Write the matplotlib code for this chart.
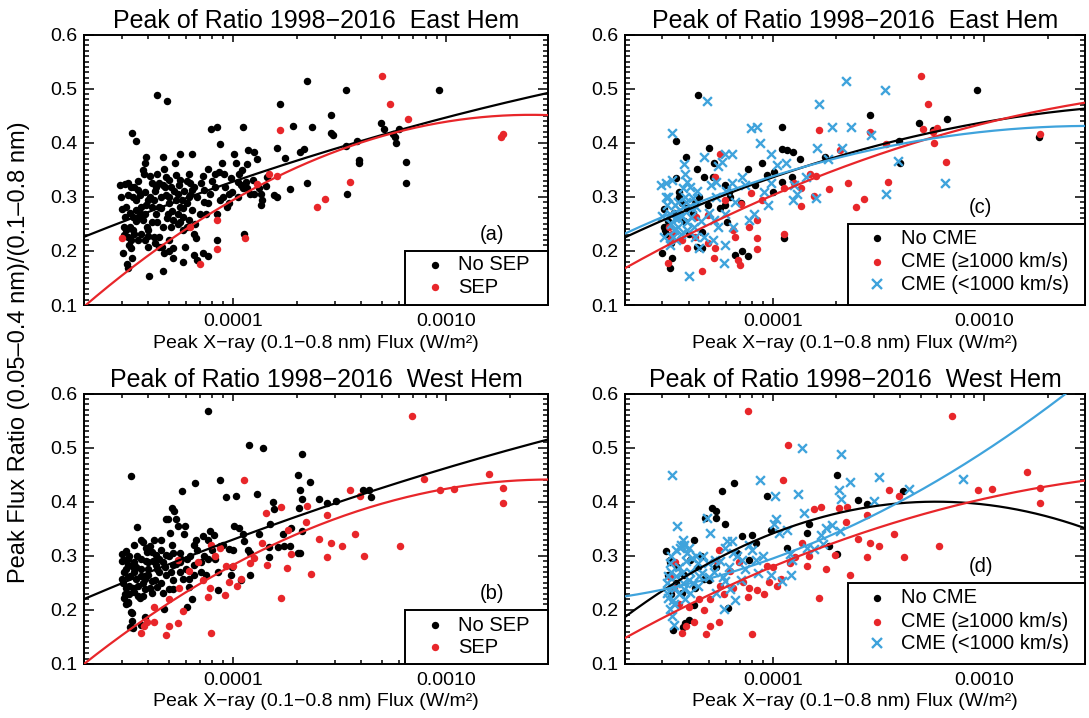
import numpy as np
import matplotlib
matplotlib.use("Agg")
import matplotlib.pyplot as plt
from matplotlib.ticker import FixedLocator, FixedFormatter, LogLocator, NullFormatter, MultipleLocator
from matplotlib.patches import Rectangle

plt.rcParams['font.family'] = ['Liberation Sans', 'DejaVu Sans']

# flux values are in units of 1e-5 W/m^2
UNIT = 1e-5

# ---- (a) East Hem, SEP split
a_nosep_x = [3.89, 3.86, 3.83, 2.95, 3.10, 3.22, 3.32, 3.20, 3.02, 3.08,
             3.14, 3.08, 3.22, 3.32, 3.45, 3.26, 3.32, 3.05, 3.17, 3.22,
             3.35, 3.58, 3.65, 3.52, 3.72, 3.86, 3.58, 3.79, 3.94, 3.72,
             3.86, 4.01, 4.04, 4.17, 4.33, 4.25, 4.49, 4.33, 4.41, 4.67,
             4.49, 4.63, 4.67, 4.67, 4.75, 4.84, 5.03, 5.13, 4.84, 5.03,
             4.93, 5.23, 5.13, 5.03, 5.23, 5.23, 5.64, 5.32, 5.42, 5.64,
             5.53, 5.74, 5.64, 5.85, 5.64, 5.85, 5.96, 5.85, 6.43, 6.19,
             6.31, 6.55, 6.27, 6.08, 6.43, 6.19, 6.55, 6.68, 6.55, 6.81,
             7.07, 7.34, 7.62, 7.20, 7.77, 7.62, 7.48, 7.20, 7.62, 8.22,
             8.22, 8.69, 8.38, 8.38, 8.87, 9.03, 9.20, 9.56, 9.56, 9.38,
             10.1, 10.3, 10.7, 10.5, 9.9, 10.9, 11.1, 11.6, 11.5, 11.6,
             12.0, 12.4, 12.6, 4.4, 4.9, 3.36, 3.52, 7.9, 8.4, 8.7,
             11.1, 16.6, 16.0, 19.1, 22.3, 23.5, 22.3, 18.4, 17.6, 20.5,
             21.5, 28.8, 28.8, 29.5, 33.9, 33.9, 34.2, 38.2, 38.8, 39.1,
             49.2, 51.3, 56.4, 57.4, 57.8, 60.1, 65.0, 65.0, 92.7, 11.2,
             12.9, 11.8, 12.5, 13.2, 13.5, 13.7, 13.5, 15.6, 16.0, 14.3,
             14.5, 3.52, 3.39, 4.17, 4.01, 4.25, 4.49, 4.75, 4.17, 4.01,
             4.58, 5.42, 5.53, 6.08, 6.19, 3.14, 3.45, 2.97, 3.39, 3.86,
             4.67, 3.1, 3.3, 3.5, 3.7, 3.9, 4.1, 4.3, 4.5, 4.8,
             5.0, 5.3, 5.6, 5.9, 6.1, 6.4, 3.4, 3.6, 3.8, 4.1,
             4.4, 4.6, 4.9, 5.2, 5.5, 5.8, 3.3, 3.6, 4.0, 4.3,
             5.0, 6.8, 7.3, 7.0, 6.6, 8.0, 9.0, 9.8, 10.5, 11.0,
             8.6]
a_nosep_y = [0.374, 0.362, 0.343, 0.322, 0.323, 0.326, 0.319, 0.303, 0.277, 0.245,
             0.239, 0.229, 0.225, 0.221, 0.232, 0.211, 0.205, 0.197, 0.175, 0.169,
             0.186, 0.312, 0.303, 0.294, 0.282, 0.269, 0.263, 0.257, 0.245, 0.232,
             0.220, 0.208, 0.154, 0.325, 0.319, 0.294, 0.282, 0.269, 0.254, 0.245,
             0.226, 0.208, 0.162, 0.374, 0.352, 0.337, 0.331, 0.319, 0.303, 0.288,
             0.269, 0.257, 0.245, 0.220, 0.205, 0.186, 0.379, 0.362, 0.340, 0.331,
             0.306, 0.294, 0.282, 0.263, 0.254, 0.239, 0.208, 0.180, 0.379, 0.343,
             0.325, 0.319, 0.303, 0.288, 0.276, 0.257, 0.232, 0.223, 0.192, 0.183,
             0.325, 0.312, 0.352, 0.338, 0.306, 0.288, 0.269, 0.196, 0.191, 0.343,
             0.319, 0.294, 0.269, 0.221, 0.362, 0.343, 0.319, 0.306, 0.288, 0.282,
             0.380, 0.362, 0.343, 0.328, 0.309, 0.322, 0.316, 0.360, 0.328, 0.316,
             0.306, 0.331, 0.306, 0.489, 0.477, 0.418, 0.404, 0.426, 0.429, 0.397,
             0.429, 0.471, 0.391, 0.431, 0.514, 0.429, 0.325, 0.315, 0.372, 0.383,
             0.389, 0.451, 0.418, 0.414, 0.497, 0.394, 0.305, 0.403, 0.368, 0.363,
             0.437, 0.426, 0.417, 0.411, 0.400, 0.426, 0.364, 0.325, 0.497, 0.232,
             0.370, 0.386, 0.383, 0.316, 0.306, 0.295, 0.284, 0.303, 0.299, 0.320,
             0.337, 0.276, 0.263, 0.254, 0.239, 0.226, 0.208, 0.196, 0.282, 0.294,
             0.300, 0.294, 0.269, 0.245, 0.300, 0.282, 0.319, 0.300, 0.239, 0.309,
             0.322, 0.262, 0.270, 0.255, 0.268, 0.285, 0.300, 0.310, 0.325, 0.318,
             0.300, 0.310, 0.322, 0.310, 0.330, 0.312, 0.300, 0.330, 0.350, 0.338,
             0.343, 0.280, 0.260, 0.273, 0.250, 0.280, 0.245, 0.220, 0.228, 0.215,
             0.200, 0.300, 0.290, 0.268, 0.250, 0.330, 0.300, 0.335, 0.300, 0.350,
             0.345]
a_sep_x = [3.0, 6.3, 7.0, 8.4, 8.4, 11.4, 12.9, 14.8, 16.0, 16.6,
           24.7, 27.0, 35.2, 49.9, 54.5, 66.0, 181.0, 185.0]
a_sep_y = [0.224, 0.245, 0.175, 0.258, 0.203, 0.224, 0.324, 0.343, 0.339, 0.424,
           0.282, 0.296, 0.327, 0.524, 0.471, 0.444, 0.411, 0.416]

# ---- (b) West Hem, SEP split
b_nosep_x = [7.62, 3.32, 11.85, 13.8, 21.1, 20.2, 22.9, 20.6, 21.1, 20.3,
             21.1, 6.6, 8.7, 9.3, 10.3, 12.9, 15.4, 5.74, 5.18, 5.30,
             5.4, 4.84, 4.98, 5.53, 5.96, 5.08, 3.56, 3.72, 3.79, 4.28,
             4.1, 3.14, 5.23, 5.64, 6.55, 7.2, 7.62, 8.1, 8.7, 9.56,
             10.0, 8.2, 7.6, 7.07, 6.55, 6.08, 5.64, 5.23, 4.67, 4.33,
             4.01, 3.72, 3.45, 3.20, 3.08, 3.2, 3.14, 3.26, 3.08, 3.22,
             3.32, 3.37, 3.39, 3.72, 3.86, 3.45, 3.58, 3.72, 3.86, 4.17,
             4.41, 4.67, 4.75, 4.17, 4.49, 4.84, 5.03, 5.23, 5.64, 5.85,
             6.19, 6.19, 6.43, 6.08, 6.55, 7.07, 7.48, 8.5, 8.5, 9.8,
             9.9, 10.9, 12.0, 12.0, 11.1, 10.7, 10.1, 11.3, 11.8, 13.2,
             14.9, 15.6, 14.7, 14.7, 16.2, 17.4, 18.5, 17.1, 18.8, 20.1,
             20.6, 25.4, 27.6, 30.4, 40.9, 43.6, 44.5, 3.02, 3.2, 3.39,
             3.52, 3.02, 3.08, 3.26, 3.45, 3.65, 3.86, 4.01, 4.33, 4.58,
             4.84, 5.23, 4.17, 3.94, 3.79, 3.14, 3.3, 3.05, 3.15, 3.25,
             3.3, 3.4, 3.5, 3.55, 3.6, 3.7, 3.8, 3.9, 4.0, 4.1,
             4.2, 4.3, 4.4, 4.5, 4.6, 4.8, 5.0, 5.1, 5.4, 5.7,
             6.0, 6.3, 6.8, 7.3, 8.0, 9.0, 3.2, 3.35, 3.1, 3.45,
             3.9, 4.6, 5.2, 5.9, 6.7, 7.8, 3.0]
b_nosep_y = [0.567, 0.448, 0.505, 0.500, 0.489, 0.450, 0.437, 0.421, 0.405, 0.389,
             0.346, 0.435, 0.441, 0.409, 0.410, 0.414, 0.400, 0.420, 0.389, 0.383,
             0.368, 0.368, 0.368, 0.356, 0.356, 0.342, 0.354, 0.329, 0.326, 0.329,
             0.318, 0.309, 0.305, 0.305, 0.320, 0.336, 0.329, 0.338, 0.319, 0.313,
             0.310, 0.295, 0.295, 0.289, 0.283, 0.295, 0.289, 0.283, 0.289, 0.283,
             0.289, 0.295, 0.289, 0.283, 0.270, 0.261, 0.241, 0.229, 0.222, 0.213,
             0.197, 0.179, 0.166, 0.172, 0.187, 0.270, 0.245, 0.262, 0.239, 0.254,
             0.243, 0.231, 0.201, 0.231, 0.270, 0.264, 0.239, 0.255, 0.270, 0.258,
             0.258, 0.242, 0.220, 0.205, 0.264, 0.270, 0.264, 0.270, 0.236, 0.264,
             0.280, 0.255, 0.265, 0.305, 0.340, 0.352, 0.356, 0.328, 0.310, 0.340,
             0.358, 0.386, 0.316, 0.298, 0.317, 0.319, 0.319, 0.340, 0.352, 0.305,
             0.305, 0.405, 0.397, 0.402, 0.422, 0.422, 0.409, 0.303, 0.295, 0.280,
             0.258, 0.258, 0.293, 0.245, 0.234, 0.222, 0.258, 0.276, 0.301, 0.310,
             0.301, 0.239, 0.307, 0.307, 0.225, 0.210, 0.169, 0.250, 0.275, 0.300,
             0.262, 0.240, 0.280, 0.300, 0.225, 0.275, 0.250, 0.290, 0.265, 0.240,
             0.290, 0.255, 0.275, 0.295, 0.250, 0.280, 0.300, 0.270, 0.285, 0.295,
             0.275, 0.300, 0.310, 0.300, 0.310, 0.320, 0.215, 0.195, 0.230, 0.320,
             0.315, 0.330, 0.320, 0.340, 0.330, 0.345, 0.290]
b_sep_x = [69.3, 11.3, 3.69, 3.94, 4.25, 4.25, 3.83, 4.87, 5.03, 5.53,
           5.8, 5.03, 5.58, 5.53, 6.19, 6.87, 7.24, 7.62, 7.77, 7.91,
           7.91, 8.2, 8.7, 9.13, 9.27, 9.56, 10.0, 10.4, 10.9, 12.0,
           12.5, 13.7, 14.3, 14.4, 16.7, 16.7, 17.9, 18.2, 18.7, 22.2,
           22.0, 23.2, 25.3, 27.5, 27.7, 28.8, 32.4, 35.2, 37.5, 39.4,
           41.3, 60.6, 79.0, 93.9, 108.8, 159.0, 185.0, 185.0]
b_sep_y = [0.558, 0.441, 0.157, 0.178, 0.178, 0.206, 0.170, 0.154, 0.170, 0.176,
           0.198, 0.220, 0.241, 0.292, 0.272, 0.288, 0.255, 0.224, 0.241, 0.157,
           0.320, 0.300, 0.314, 0.228, 0.282, 0.251, 0.281, 0.245, 0.258, 0.287,
           0.296, 0.323, 0.380, 0.283, 0.390, 0.222, 0.277, 0.347, 0.304, 0.392,
           0.362, 0.266, 0.331, 0.376, 0.298, 0.324, 0.319, 0.421, 0.341, 0.410,
           0.300, 0.318, 0.442, 0.421, 0.423, 0.452, 0.425, 0.397]

# ---- (c) East Hem, CME split
c_nocme_x = [4.44, 3.5, 3.89, 4.37, 5.0, 5.3, 4.73, 5.2, 3.07, 3.05,
             3.1, 3.12, 3.0, 3.25, 3.35, 3.47, 3.61, 3.71, 3.92, 4.31,
             4.92, 4.65, 4.4, 4.65, 5.94, 6.18, 5.94, 6.06, 6.6, 7.18,
             7.6, 7.05, 7.66, 8.25, 8.9, 9.35, 10.1, 10.0, 11.1, 11.1,
             11.7, 12.4, 13.4, 12.3, 11.0, 11.3, 17.6, 28.8, 39.6, 39.9,
             49.2, 66.5, 92.7, 182.0, 57.6, 3.2, 3.4, 3.8, 4.2, 4.5,
             3.6, 5.6, 6.3, 4.0, 3.3]
c_nocme_y = [0.489, 0.404, 0.373, 0.352, 0.391, 0.362, 0.337, 0.337, 0.277, 0.245,
             0.239, 0.232, 0.197, 0.168, 0.186, 0.334, 0.309, 0.288, 0.279, 0.288,
             0.285, 0.235, 0.208, 0.205, 0.322, 0.309, 0.285, 0.254, 0.192, 0.199,
             0.191, 0.288, 0.351, 0.322, 0.362, 0.340, 0.346, 0.309, 0.429, 0.388,
             0.386, 0.382, 0.370, 0.337, 0.328, 0.223, 0.373, 0.451, 0.404, 0.363,
             0.437, 0.443, 0.497, 0.411, 0.423, 0.255, 0.270, 0.255, 0.270, 0.300,
             0.300, 0.280, 0.300, 0.232, 0.215]
c_fast_x = [3.19, 3.22, 3.33, 3.25, 3.71, 3.92, 4.31, 4.35, 4.92, 4.65,
            5.25, 5.34, 4.92, 5.62, 5.32, 5.94, 6.52, 6.66, 6.84, 6.97,
            7.05, 7.7, 7.88, 8.4, 8.4, 8.4, 8.9, 11.3, 11.3, 12.6,
            13.6, 13.6, 15.0, 16.1, 15.6, 16.6, 18.5, 20.8, 22.6, 24.7,
            27.1, 28.8, 34.3, 35.2, 50.0, 54.5, 51.6, 57.9, 60.1, 66.0,
            184.0, 57.2]
c_fast_y = [0.177, 0.245, 0.232, 0.220, 0.220, 0.205, 0.226, 0.262, 0.266, 0.163,
            0.186, 0.205, 0.214, 0.380, 0.337, 0.294, 0.239, 0.225, 0.183, 0.174,
            0.287, 0.245, 0.307, 0.257, 0.203, 0.223, 0.294, 0.316, 0.232, 0.325,
            0.316, 0.283, 0.343, 0.339, 0.302, 0.424, 0.315, 0.386, 0.325, 0.282,
            0.296, 0.419, 0.397, 0.327, 0.524, 0.471, 0.425, 0.399, 0.428, 0.364,
            0.416, 0.420]
c_slow_x = [2.96, 3.13, 3.35, 3.35, 3.13, 3.07, 3.25, 3.38, 3.5, 3.44,
            3.57, 3.67, 3.71, 3.79, 3.84, 3.95, 4.07, 4.2, 4.16, 4.35,
            4.47, 4.0, 4.73, 4.86, 5.1, 5.4, 5.51, 5.77, 5.94, 6.4,
            6.4, 5.27, 5.94, 5.51, 5.2, 5.9, 5.94, 6.47, 7.18, 7.38,
            7.73, 8.15, 7.88, 8.4, 8.75, 9.1, 9.5, 9.85, 9.85, 10.5,
            11.5, 12.6, 12.4, 13.0, 14.4, 16.2, 16.6, 16.1, 18.3, 19.0,
            21.2, 22.2, 23.5, 29.1, 34.0, 34.3, 39.0, 65.0, 3.16, 3.28,
            3.76, 3.84, 3.92, 4.24, 4.73, 3.57, 3.41, 3.2, 3.45, 3.65,
            3.9, 4.1, 4.4, 4.6, 5.0, 5.4, 6.0, 6.6, 3.3, 3.55,
            3.95, 4.3, 3.0]
c_slow_y = [0.322, 0.326, 0.331, 0.418, 0.300, 0.225, 0.211, 0.226, 0.220, 0.260,
            0.245, 0.232, 0.265, 0.360, 0.343, 0.328, 0.319, 0.297, 0.279, 0.282,
            0.205, 0.154, 0.374, 0.477, 0.322, 0.328, 0.357, 0.365, 0.379, 0.379,
            0.325, 0.257, 0.269, 0.245, 0.220, 0.177, 0.211, 0.245, 0.337, 0.321,
            0.257, 0.269, 0.428, 0.429, 0.399, 0.309, 0.285, 0.325, 0.379, 0.359,
            0.362, 0.322, 0.294, 0.306, 0.337, 0.391, 0.471, 0.297, 0.369, 0.429,
            0.391, 0.514, 0.429, 0.414, 0.497, 0.305, 0.366, 0.325, 0.285, 0.269,
            0.316, 0.300, 0.254, 0.245, 0.226, 0.291, 0.239, 0.300, 0.285, 0.275,
            0.290, 0.262, 0.310, 0.255, 0.270, 0.300, 0.310, 0.290, 0.250, 0.260,
            0.238, 0.225, 0.265]

# ---- (d) West Hem, CME split
d_nocme_x = [3.13, 3.28, 3.25, 3.38, 3.76, 3.84, 4.0, 4.25, 4.25, 4.79,
             5.14, 5.37, 5.37, 5.77, 5.94, 6.57, 6.11, 5.39, 7.18, 8.0,
             8.3, 9.35, 9.85, 20.1, 20.2, 25.4, 28.0, 41.4, 14.5, 14.8,
             18.4, 11.7, 4.41, 4.73, 5.0, 3.54, 3.71, 6.8, 7.7, 4.07,
             3.2, 3.5, 3.8, 4.3, 3.3, 4.6]
d_nocme_y = [0.309, 0.292, 0.289, 0.162, 0.169, 0.175, 0.181, 0.329, 0.209, 0.369,
             0.389, 0.383, 0.369, 0.420, 0.358, 0.435, 0.203, 0.280, 0.337, 0.338,
             0.324, 0.410, 0.347, 0.449, 0.303, 0.404, 0.396, 0.420, 0.343, 0.359,
             0.318, 0.314, 0.280, 0.258, 0.255, 0.280, 0.232, 0.305, 0.292, 0.292,
             0.265, 0.250, 0.265, 0.240, 0.230, 0.300]
d_fast_x = [7.6, 11.8, 11.2, 70.4, 160.0, 184.0, 184.0, 109.0, 93.3, 61.3,
            41.8, 37.3, 39.6, 35.3, 31.9, 28.8, 27.8, 28.0, 25.4, 23.1,
            22.1, 22.4, 20.5, 19.7, 17.8, 16.6, 16.9, 15.6, 14.9, 14.5,
            13.7, 12.7, 12.1, 10.9, 10.5, 10.0, 9.65, 9.1, 9.35, 8.4,
            7.94, 7.73, 7.6, 7.26, 6.95, 6.28, 5.9, 5.55, 5.07, 4.85,
            4.73, 5.07, 4.25, 3.89, 3.71, 3.61, 3.28, 3.44, 5.56, 5.43,
            3.4, 4.0, 4.5, 5.6, 6.5]
d_fast_y = [0.567, 0.505, 0.441, 0.558, 0.454, 0.426, 0.398, 0.424, 0.422, 0.318,
            0.298, 0.341, 0.410, 0.421, 0.318, 0.324, 0.298, 0.376, 0.331, 0.265,
            0.362, 0.391, 0.389, 0.302, 0.276, 0.222, 0.391, 0.386, 0.299, 0.282,
            0.324, 0.297, 0.286, 0.257, 0.245, 0.280, 0.251, 0.229, 0.282, 0.237,
            0.156, 0.240, 0.223, 0.252, 0.288, 0.272, 0.229, 0.177, 0.171, 0.155,
            0.199, 0.220, 0.178, 0.171, 0.158, 0.210, 0.261, 0.288, 0.311, 0.291,
            0.240, 0.205, 0.220, 0.245, 0.240]
d_slow_x = [3.35, 3.54, 3.76, 3.82, 3.63, 3.92, 4.16, 4.41, 3.25, 3.19,
            3.31, 3.16, 3.38, 3.25, 3.35, 3.41, 3.5, 3.71, 3.79, 4.0,
            4.07, 4.41, 4.65, 4.92, 4.88, 5.07, 5.32, 5.39, 5.85, 5.94,
            6.06, 5.94, 6.4, 6.28, 6.6, 6.52, 7.05, 7.18, 7.7, 8.3,
            8.47, 8.7, 9.85, 10.1, 10.4, 10.2, 10.7, 11.0, 11.7, 12.1,
            12.2, 12.3, 13.1, 13.7, 14.0, 14.5, 15.6, 17.2, 16.9, 17.8,
            19.1, 20.5, 21.1, 21.0, 20.9, 23.1, 30.1, 31.8, 43.9, 79.3,
            3.15, 3.3, 3.45, 3.6, 3.75, 3.9, 4.05, 4.2, 4.35, 4.5,
            3.2, 3.4, 3.6, 3.85, 4.7, 5.0, 5.3, 5.6, 5.8, 6.2,
            6.8, 7.4, 8.0, 9.0, 3.3, 3.5, 3.7, 4.0]
d_slow_y = [0.449, 0.355, 0.329, 0.320, 0.314, 0.305, 0.296, 0.286, 0.286, 0.262,
            0.244, 0.232, 0.219, 0.201, 0.189, 0.173, 0.262, 0.268, 0.238, 0.256,
            0.232, 0.244, 0.268, 0.286, 0.369, 0.343, 0.292, 0.232, 0.201, 0.253,
            0.328, 0.315, 0.328, 0.238, 0.219, 0.305, 0.256, 0.292, 0.320, 0.292,
            0.268, 0.441, 0.265, 0.359, 0.368, 0.410, 0.343, 0.253, 0.347, 0.304,
            0.265, 0.293, 0.414, 0.500, 0.379, 0.315, 0.313, 0.321, 0.339, 0.351,
            0.357, 0.421, 0.405, 0.489, 0.346, 0.437, 0.402, 0.445, 0.424, 0.442,
            0.250, 0.270, 0.240, 0.280, 0.250, 0.290, 0.270, 0.250, 0.300, 0.262,
            0.222, 0.210, 0.230, 0.220, 0.300, 0.260, 0.270, 0.290, 0.260, 0.280,
            0.300, 0.275, 0.310, 0.300, 0.300, 0.310, 0.320, 0.315]

fit_a_nosep = [(2e-5, 0.226), (1e-4, 0.328), (3e-3, 0.492)]
fit_a_sep = [(2e-5, 0.097), (1e-4, 0.294), (3e-3, 0.451)]
fit_b_nosep = [(2e-5, 0.220), (1e-4, 0.330), (3e-3, 0.515)]
fit_b_sep = [(2e-5, 0.100), (1e-4, 0.283), (3e-3, 0.441)]
fit_c_nocme = [(2e-5, 0.225), (1e-4, 0.336), (3e-3, 0.463)]
fit_c_fast = [(2e-5, 0.168), (3.7e-4, 0.387), (3e-3, 0.474)]
fit_c_slow = [(2e-5, 0.232), (1e-4, 0.338), (3e-3, 0.431)]
fit_d_nocme = [(2e-5, 0.187), (6e-4, 0.400), (3e-3, 0.351)]
fit_d_fast = [(2e-5, 0.148), (1e-4, 0.280), (3e-3, 0.439)]
fit_d_slow = [(2e-5, 0.225), (1e-4, 0.295), (2.44e-3, 0.600)]

sep_labels = ["No SEP", "SEP"]
cme_labels = ["No CME", "CME (\u22651000 km/s)", "CME (<1000 km/s)"]

RED = "#e8262a"
BLUE = "#3fa3dc"
XMIN, XMAX = 2e-5, 3e-3
W, H = 1089, 718


def px_axes(left, right, top, bottom):
    return [left / W, 1 - bottom / H, (right - left) / W, (bottom - top) / H]


def style_axes(ax, title):
    ax.set_xscale("log")
    ax.set_xlim(XMIN, XMAX)
    ax.set_ylim(0.1, 0.6)
    ax.xaxis.set_major_locator(FixedLocator([1e-4, 1e-3]))
    ax.xaxis.set_major_formatter(FixedFormatter(["0.0001", "0.0010"]))
    ax.xaxis.set_minor_locator(LogLocator(base=10, subs=np.arange(2, 10)))
    ax.xaxis.set_minor_formatter(NullFormatter())
    ax.yaxis.set_major_locator(FixedLocator([0.1, 0.2, 0.3, 0.4, 0.5, 0.6]))
    ax.yaxis.set_major_formatter(FixedFormatter(["0.1", "0.2", "0.3", "0.4", "0.5", "0.6"]))
    ax.yaxis.set_minor_locator(MultipleLocator(0.01))
    ax.tick_params(which="both", direction="in", top=True, right=True,
                   labelsize=14, width=1.1, color="black")
    ax.tick_params(axis="x", which="major", length=5, pad=6)
    ax.tick_params(axis="x", which="minor", length=3)
    ax.tick_params(axis="y", which="major", length=7, pad=5)
    ax.tick_params(axis="y", which="minor", length=3.5)
    for s in ax.spines.values():
        s.set_linewidth(1.4)
    ax.set_title(title, fontsize=18, pad=5)
    ax.set_xlabel("Peak X\u2212ray (0.1\u22120.8 nm) Flux (W/m\u00b2)", fontsize=14, labelpad=3)


def draw_fit(ax, anchors, color):
    lx = np.log10([p[0] for p in anchors])
    yy = [p[1] for p in anchors]
    coef = np.polyfit(lx, yy, 2)
    xs = np.logspace(np.log10(XMIN), np.log10(XMAX), 300)
    ax.plot(xs, np.polyval(coef, np.log10(xs)), color=color, lw=1.6, zorder=5)


def dots(ax, xs, ys, color):
    ax.scatter(np.array(xs) * UNIT, ys, s=29, color=color, linewidths=0, zorder=3)


def crosses(ax, xs, ys):
    ax.scatter(np.array(xs) * UNIT, ys, s=40, marker="x", color=BLUE, linewidths=1.7, zorder=4)


def box_legend(ax, left, top, mx, tx, rows, labels, kinds):
    ax.add_patch(Rectangle((left, 0), 1 - left, top, transform=ax.transAxes,
                           facecolor="white", edgecolor="black", lw=1.4, zorder=6, clip_on=False))
    for y, lab, kind in zip(rows, labels, kinds):
        if kind == "x":
            ax.plot([mx], [y], marker="x", ms=6.5, mew=1.7, color=BLUE,
                    transform=ax.transAxes, zorder=7, clip_on=False)
        else:
            ax.plot([mx], [y], marker="o", ms=5.3, mew=0, color=kind,
                    transform=ax.transAxes, zorder=7, clip_on=False)
        ax.text(tx, y, lab, transform=ax.transAxes, fontsize=14.5,
                va="center", ha="left", zorder=7)


fig = plt.figure(figsize=(W / 100, H / 100), dpi=100)
ax_a = fig.add_axes(px_axes(84, 548, 34.5, 305))
ax_c = fig.add_axes(px_axes(625, 1085, 34.5, 305))
ax_b = fig.add_axes(px_axes(84, 548, 393.5, 664))
ax_d = fig.add_axes(px_axes(625, 1085, 393.5, 664))

east = "Peak of Ratio 1998\u22122016  East Hem"
west = "Peak of Ratio 1998\u22122016  West Hem"

# (a)
style_axes(ax_a, east)
dots(ax_a, a_nosep_x, a_nosep_y, "black")
dots(ax_a, a_sep_x, a_sep_y, RED)
draw_fit(ax_a, fit_a_nosep, "black")
draw_fit(ax_a, fit_a_sep, RED)
box_legend(ax_a, 0.692, 0.201, 0.757, 0.807, [0.148, 0.0665], sep_labels, ["black", RED])
ax_a.text(0.879, 0.259, "(a)", transform=ax_a.transAxes, fontsize=14.5, ha="center", va="center")

# (b)
style_axes(ax_b, west)
dots(ax_b, b_nosep_x, b_nosep_y, "black")
dots(ax_b, b_sep_x, b_sep_y, RED)
draw_fit(ax_b, fit_b_nosep, "black")
draw_fit(ax_b, fit_b_sep, RED)
box_legend(ax_b, 0.692, 0.1995, 0.757, 0.807, [0.144, 0.062], sep_labels, ["black", RED])
ax_b.text(0.879, 0.261, "(b)", transform=ax_b.transAxes, fontsize=14.5, ha="center", va="center")

# (c)
style_axes(ax_c, east)
dots(ax_c, c_nocme_x, c_nocme_y, "black")
dots(ax_c, c_fast_x, c_fast_y, RED)
crosses(ax_c, c_slow_x, c_slow_y)
draw_fit(ax_c, fit_c_nocme, "black")
draw_fit(ax_c, fit_c_fast, RED)
draw_fit(ax_c, fit_c_slow, BLUE)
box_legend(ax_c, 0.485, 0.299, 0.548, 0.599, [0.2466, 0.160, 0.0776], cme_labels, ["black", RED, "x"])
ax_c.text(0.773, 0.361, "(c)", transform=ax_c.transAxes, fontsize=14.5, ha="center", va="center")

# (d)
style_axes(ax_d, west)
dots(ax_d, d_nocme_x, d_nocme_y, "black")
dots(ax_d, d_fast_x, d_fast_y, RED)
crosses(ax_d, d_slow_x, d_slow_y)
draw_fit(ax_d, fit_d_nocme, "black")
draw_fit(ax_d, fit_d_fast, RED)
draw_fit(ax_d, fit_d_slow, BLUE)
box_legend(ax_d, 0.485, 0.300, 0.548, 0.599, [0.244, 0.156, 0.0776], cme_labels, ["black", RED, "x"])
ax_d.text(0.773, 0.359, "(d)", transform=ax_d.transAxes, fontsize=14.5, ha="center", va="center")

fig.text(19.5 / W, 1 - 352 / H, "Peak Flux Ratio (0.05\u20130.4 nm)/(0.1\u20130.8 nm)",
         rotation=90, fontsize=17, ha="center", va="center")

fig.savefig("out.png", dpi=100)
